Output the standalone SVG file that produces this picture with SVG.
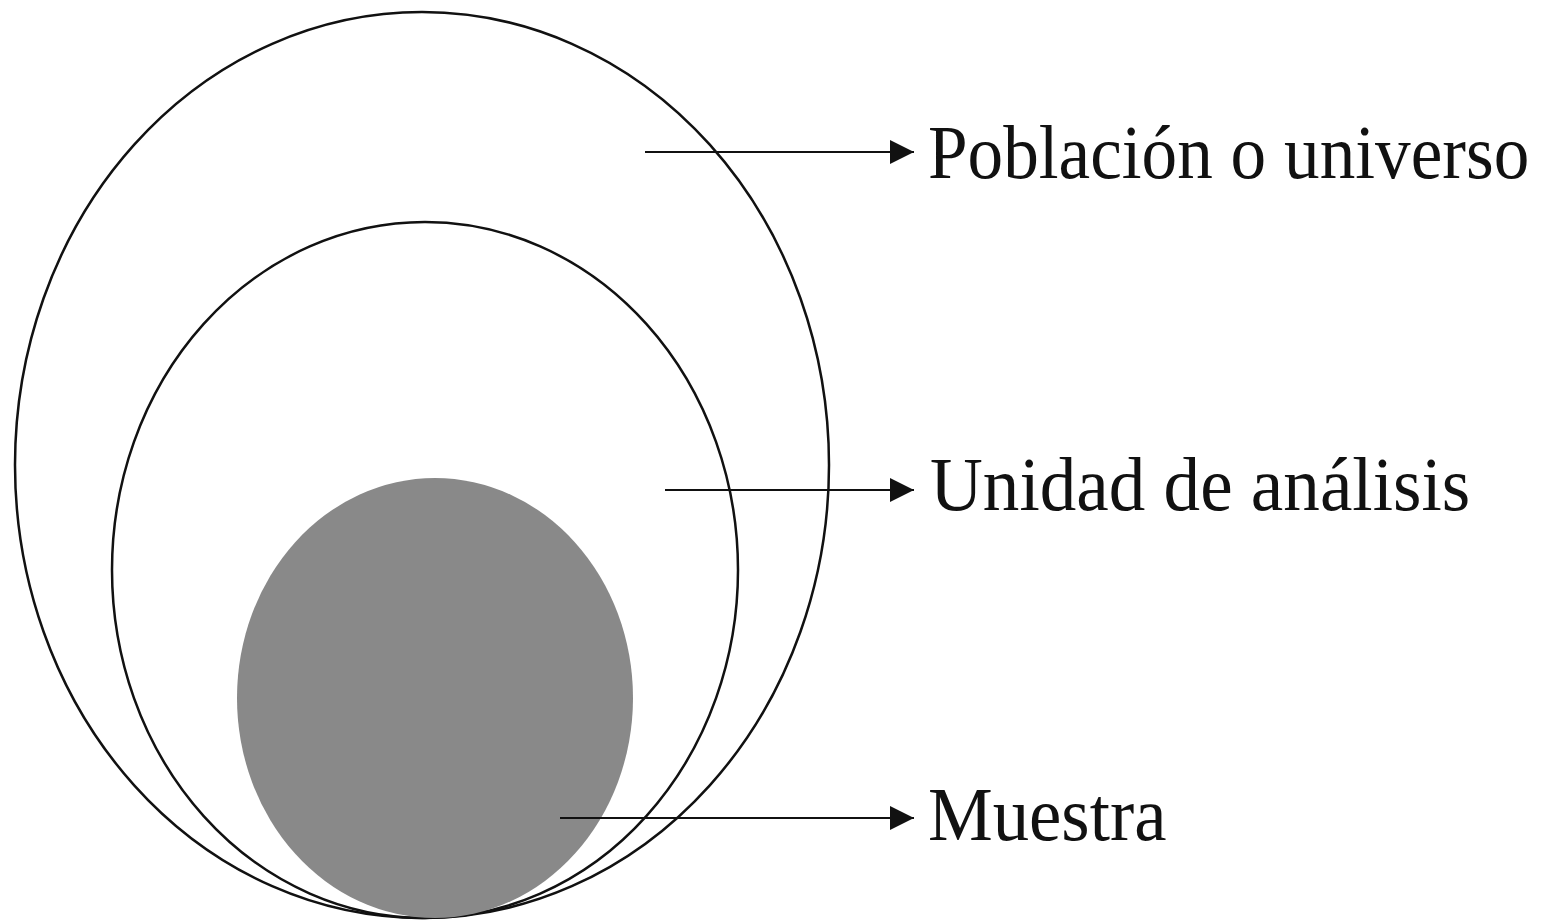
<svg xmlns="http://www.w3.org/2000/svg" width="1554" height="924" viewBox="0 0 1554 924">
<style>
.ring{fill:none;stroke:#111;stroke-width:2.5}
.conn{stroke:#111;stroke-width:2;fill:none}
.lbl{font-family:"Liberation Serif",serif;font-size:77px;fill:#111}
</style>
<defs>
<marker id="ah" markerWidth="26" markerHeight="26" refX="24" refY="13" markerUnits="userSpaceOnUse" orient="auto">
<path d="M0,1 L24,13 L0,25 Z" fill="#111"/>
</marker>
</defs>
<rect width="1554" height="924" fill="#fff"/>
<g id="poblacion"><ellipse class="ring" cx="422" cy="465" rx="407" ry="453"/></g>
<g id="unidad"><ellipse class="ring" cx="425" cy="570" rx="313" ry="348"/></g>
<g id="muestra"><ellipse cx="435" cy="698" rx="198" ry="220" fill="#898989"/></g>
<g id="connectors">
<line class="conn" x1="645" y1="152" x2="914" y2="152" marker-end="url(#ah)"/>
<line class="conn" x1="665" y1="490" x2="914" y2="490" marker-end="url(#ah)"/>
<line class="conn" x1="560" y1="818" x2="914" y2="818" marker-end="url(#ah)"/>
</g>
<g id="labels">
<text class="lbl" transform="translate(928,178) scale(0.925,1)">Población o universo</text>
<text class="lbl" transform="translate(930,510) scale(0.95,1)">Unidad de análisis</text>
<text class="lbl" transform="translate(928,840) scale(0.945,1)">Muestra</text>
</g>
</svg>
